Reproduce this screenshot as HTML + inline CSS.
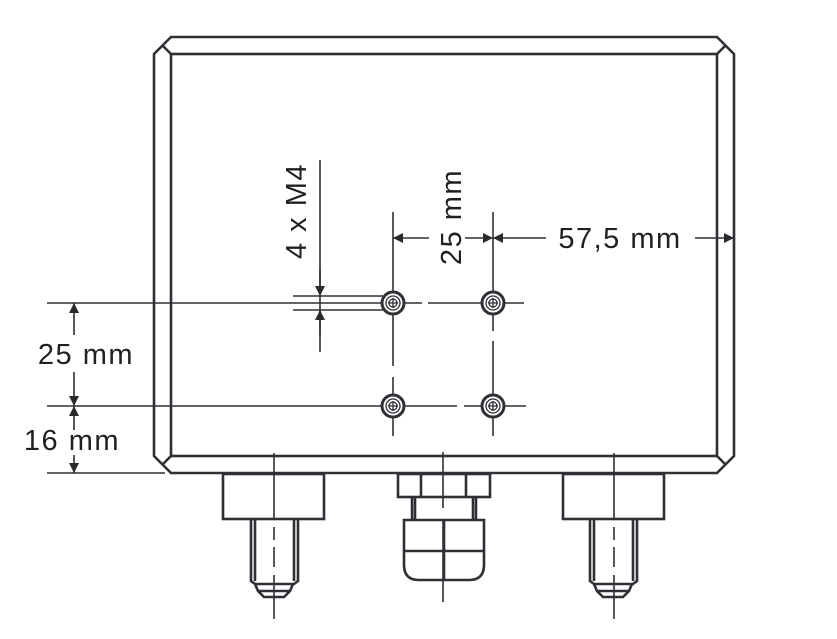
<!DOCTYPE html>
<html><head><meta charset="utf-8"><style>html,body{margin:0;padding:0;background:#fff}svg{display:block}</style></head>
<body>
<svg width="837" height="639" viewBox="0 0 837 639" xmlns="http://www.w3.org/2000/svg">
<defs>
<marker id="a" viewBox="0 0 10 10" refX="10" refY="5" markerWidth="16" markerHeight="10" markerUnits="userSpaceOnUse" orient="auto"><path d="M0,0L10,5L0,10z" fill="#2b2b2f"/></marker>
</defs>
<g fill="none" stroke="#2f3035" stroke-width="2.6">
<path d="M171,37H717L734,54V456L717,473H171L154,456V54Z"/>
<rect x="171" y="54" width="546" height="402"/>
<path d="M171,54L162,45M717,54L726,45M171,456L162,465M717,456L726,465"/>
</g>
<g fill="none" stroke="#2f3035" stroke-width="1.6">
<line x1="47" y1="303" x2="381" y2="303"/>
<line x1="47" y1="406" x2="381" y2="406"/>
<line x1="47" y1="473" x2="165" y2="473"/>
<line x1="405" y1="303" x2="422" y2="303"/>
<line x1="428" y1="303" x2="481" y2="303"/>
<line x1="505" y1="303" x2="524" y2="303"/>
<line x1="405" y1="406" x2="457" y2="406"/>
<line x1="464" y1="406" x2="481" y2="406"/>
<line x1="505" y1="406" x2="526" y2="406"/>
<line x1="393" y1="212" x2="393" y2="291"/>
<line x1="393" y1="315" x2="393" y2="366"/>
<line x1="393" y1="377" x2="393" y2="394"/>
<line x1="393" y1="418" x2="393" y2="436"/>
<line x1="493" y1="212" x2="493" y2="291"/>
<line x1="493" y1="315" x2="493" y2="331"/>
<line x1="493" y1="341" x2="493" y2="394"/>
<line x1="493" y1="418" x2="493" y2="436"/>
<line x1="293" y1="296" x2="383" y2="296"/>
<line x1="293" y1="310" x2="383" y2="310"/>
<line x1="320" y1="160" x2="320" y2="352"/>
</g>
<g stroke="#2f3035" stroke-width="1.6" fill="none">
<line x1="74" y1="335" x2="74" y2="303" marker-end="url(#a)"/>
<line x1="74" y1="372" x2="74" y2="406" marker-end="url(#a)"/>
<line x1="74" y1="430" x2="74" y2="406" marker-end="url(#a)"/>
<line x1="74" y1="455" x2="74" y2="473" marker-end="url(#a)"/>
<line x1="320" y1="270" x2="320" y2="296" marker-end="url(#a)"/>
<line x1="320" y1="335" x2="320" y2="310" marker-end="url(#a)"/>
<line x1="429" y1="238" x2="393" y2="238" marker-end="url(#a)"/>
<line x1="465" y1="238" x2="493" y2="238" marker-end="url(#a)"/>
<line x1="546" y1="238" x2="493" y2="238" marker-end="url(#a)"/>
<line x1="695" y1="238" x2="734" y2="238" marker-end="url(#a)"/>
</g>
<g fill="none" stroke="#2f3035">
<g stroke-width="3"><circle cx="393" cy="303" r="11"/><circle cx="493" cy="303" r="11"/><circle cx="393" cy="406" r="11"/><circle cx="493" cy="406" r="11"/></g>
<g stroke-width="1.3"><circle cx="393" cy="303" r="7"/><circle cx="493" cy="303" r="7"/><circle cx="393" cy="406" r="7"/><circle cx="493" cy="406" r="7"/>
<circle cx="393" cy="303" r="4"/><circle cx="493" cy="303" r="4"/><circle cx="393" cy="406" r="4"/><circle cx="493" cy="406" r="4"/>
<path d="M388,303h10M393,298v10M488,303h10M493,298v10M388,406h10M393,401v10M488,406h10M493,401v10"/></g>
</g>
<g fill="none" stroke="#2f3035" stroke-width="2.6">
<rect x="223" y="474" width="101" height="45"/>
<path d="M251,519V581L255,584H294L298,581V519M255,519V581M294,519V581M255,584L258,591L264,597H284L290,591L293,584M258,591H290"/>
<rect x="563" y="474" width="101" height="45"/>
<path d="M590,519V581L594,584H633L637,581V519M594,519V581M633,519V581M594,584L597,591L603,597H623L629,591L632,584M597,591H629"/>
<rect x="398" y="474" width="92" height="23"/>
<path d="M421,474V497M466,474V497M412,497V520M476,497V520M415,497V520M473,497V520"/>
<path d="M404,520H484V565Q484,580 469,580H419Q404,580 404,565Z"/>
<path d="M404,551H484M444,520V580"/>
</g>
<g stroke="#2f3035" stroke-width="1.6" fill="none">
<path d="M274,453V519M274,527V540M274,547V567M274,575V619"/>
<path d="M614,453V519M614,527V540M614,547V567M614,575V619"/>
<path d="M443,452V508M443,520V602"/>
</g>
<g font-family="Liberation Sans, sans-serif" font-size="29" fill="#231f20" letter-spacing="1.5">
<text x="86" y="364" text-anchor="middle">25 mm</text>
<text x="72" y="450" text-anchor="middle">16 mm</text>
<text x="620" y="248" text-anchor="middle">57,5 mm</text>
<text transform="translate(306,211) rotate(-90)" text-anchor="middle">4 x M4</text>
<text transform="translate(461,217) rotate(-90)" text-anchor="middle">25 mm</text>
</g>
</svg>
</body></html>
